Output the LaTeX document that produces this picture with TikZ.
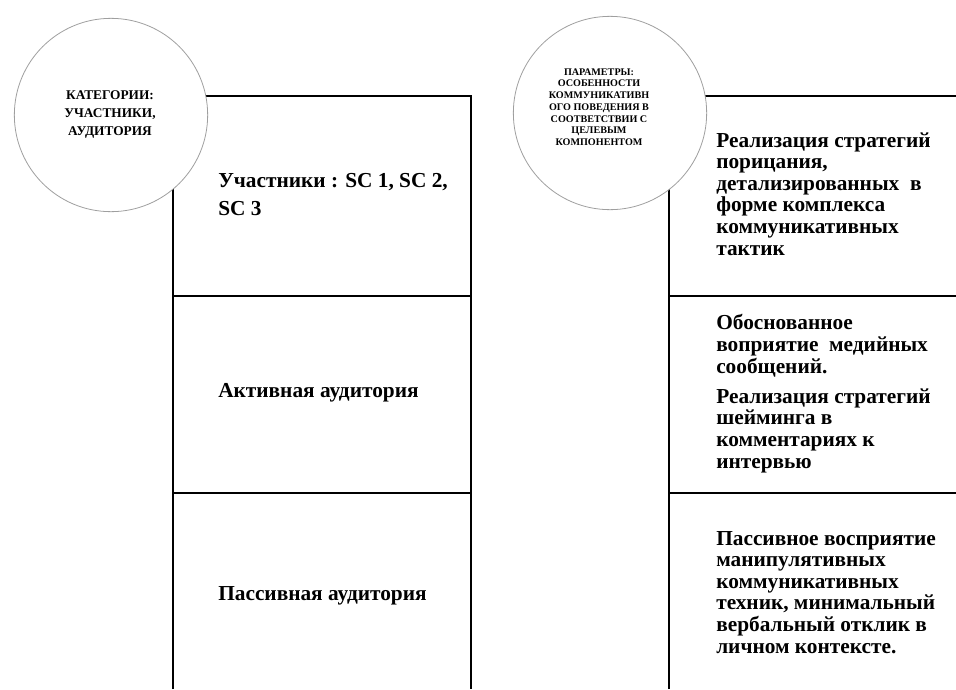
\documentclass[tikz,border=0pt]{standalone}
\usepackage{fontspec}
\setmainfont{Liberation Serif}
\begin{document}
\begin{tikzpicture}[x=0.75pt,y=-0.75pt,
  rule/.style={line width=1.6pt, draw=black},
  ring/.style={circle, draw=gray!75, line width=0.6pt, fill=white, minimum size=145pt, inner sep=0pt},
  celltext/.style={inner sep=0pt, anchor=base west, align=left, font=\bfseries\fontsize{16}{16.2}\selectfont},
  lefttext/.style={inner sep=0pt, anchor=base west, align=left, font=\bfseries\fontsize{16}{21}\selectfont},
  ringtextA/.style={inner sep=0pt, align=center, font=\bfseries\fontsize{10}{13.5}\selectfont},
  ringtextB/.style={inner sep=0pt, align=center, font=\bfseries\fontsize{7.6}{8.8}\selectfont}]
\useasboundingbox (0,0) rectangle (956,689);
% left table
\coordinate (L1) at (173,96);
\coordinate (L2) at (471,96);
\coordinate (L3) at (173,689);
\coordinate (L4) at (471,689);
\draw[rule] (L3) -- (L1) -- (L2) -- (L4);
\draw[rule] (173,296) -- (471,296);
\draw[rule] (173,493) -- (471,493);
% right table
\coordinate (R1) at (669,96);
\coordinate (R2) at (956,96);
\coordinate (R3) at (669,689);
\draw[rule] (R3) -- (R1) -- (R2);
\draw[rule] (669,296) -- (956,296);
\draw[rule] (669,493) -- (956,493);
% circles
\node[ring] (c1) at (111,115) {};
\node[ring] (c2) at (610,113) {};
\node[ringtextA] (t1) at (110,115) {КАТЕГОРИИ:\\УЧАСТНИКИ,\\АУДИТОРИЯ};
\node[ringtextB] (t2) at (599,107) {ПАРАМЕТРЫ:\\ОСОБЕННОСТИ\\КОММУНИКАТИВН\\ОГО ПОВЕДЕНИЯ В\\СООТВЕТСТВИИ С\\ЦЕЛЕВЫМ\\КОМПОНЕНТОМ};
% left cell texts (anchored at the baseline of the last line)
\node[lefttext] (a1) at (218,215) {Участники : SC 1, SC 2,\\SC 3};
\node[lefttext] (a2) at (218,397) {Активная аудитория};
\node[lefttext] (a3) at (218,600) {Пассивная аудитория};
% right cell texts (anchored at the baseline of the last line)
\node[celltext] (b1) at (716,255) {Реализация стратегий\\порицания,\\детализированных\ \ в\\форме комплекса\\коммуникативных\\тактик};
\node[celltext] (b2) at (716,373) {Обоснованное\\воприятие\ \ медийных\\сообщений.};
\node[celltext] (b3) at (716,468) {Реализация стратегий\\шейминга в\\комментариях к\\интервью};
\node[celltext] (b4) at (716,653) {Пассивное восприятие\\манипулятивных\\коммуникативных\\техник, минимальный\\вербальный отклик в\\личном контексте.};
\end{tikzpicture}
\end{document}
